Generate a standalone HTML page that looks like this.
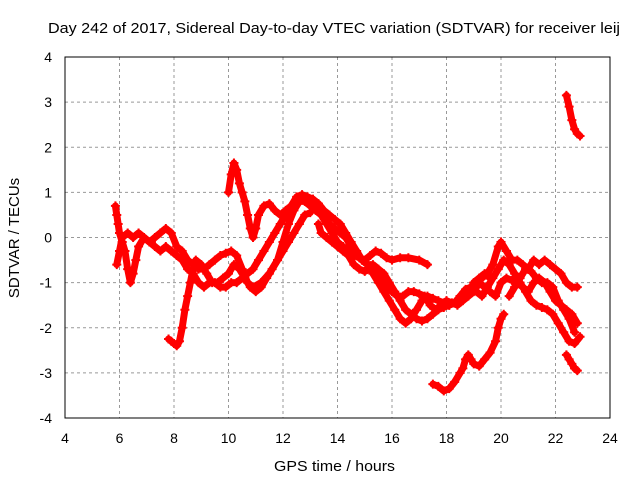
<!DOCTYPE html>
<html><head><meta charset="utf-8"><style>
body{margin:0;background:#fff;}
svg{display:block;font-family:"Liberation Sans",sans-serif;}
</style></head><body>
<svg id="chart" width="640" height="480" viewBox="0 0 640 480">
<rect width="640" height="480" fill="#fff"/>
<text x="48" y="33" font-size="15" textLength="572" lengthAdjust="spacingAndGlyphs" fill="#000">Day 242 of 2017, Sidereal Day-to-day VTEC variation (SDTVAR) for receiver leij</text>
<text x="274" y="471" font-size="15" textLength="121" lengthAdjust="spacingAndGlyphs">GPS time / hours</text>
<text x="0" y="0" font-size="15" text-anchor="middle" transform="translate(19,238) rotate(-90)">SDTVAR / TECUs</text>
<g id="grid"></g><g id="ticks"></g><g id="marks"></g>
<rect x="65" y="57" width="545" height="361" fill="none" stroke="#000" stroke-width="1"/>
</svg>
<script>
const xTicks=[4,6,8,10,12,14,16,18,20,22,24];
const yTicks=[-4,-3,-2,-1,0,1,2,3,4];
const track1=[[5.85,0.7],[5.9,0.5],[5.95,0.3],[6.0,0.1],[6.1,-0.1],[6.2,-0.3],[6.3,-0.7],[6.4,-1.0],[6.5,-0.8],[6.6,-0.5],[6.7,-0.2],[6.9,0.0],[7.1,-0.1],[7.3,0.0],[7.5,0.1],[7.7,0.2],[7.9,0.1],[8.1,-0.2],[8.3,-0.3],[8.5,-0.5],[8.7,-0.6],[8.9,-0.7],[9.1,-0.7],[9.3,-0.6],[9.5,-0.5],[9.7,-0.4],[9.9,-0.35],[10.1,-0.3],[10.3,-0.4],[10.5,-0.7],[10.7,-1.0],[10.9,-1.1],[11.2,-1.0],[11.5,-0.8],[11.8,-0.5],[12.0,-0.1],[12.2,0.3],[12.4,0.6],[12.6,0.8],[12.8,0.8],[13.0,0.7],[13.2,0.6],[13.4,0.5],[13.6,0.3],[13.8,0.1],[14.0,-0.1],[14.2,-0.2],[14.4,-0.3],[14.6,-0.4],[14.8,-0.45],[15.0,-0.5],[15.2,-0.4],[15.4,-0.3],[15.6,-0.35],[15.8,-0.45],[16.0,-0.5],[16.3,-0.45],[16.6,-0.45],[17.0,-0.5],[17.3,-0.6]];
const track2=[[5.9,-0.6],[6.0,-0.3],[6.1,0.0],[6.3,0.1],[6.5,0.0],[6.7,0.1],[6.9,0.0],[7.1,-0.1],[7.3,-0.2],[7.5,-0.3],[7.7,-0.2],[7.9,-0.3],[8.1,-0.4],[8.3,-0.5],[8.5,-0.7],[8.7,-0.8],[8.9,-1.0],[9.1,-1.1],[9.3,-1.0],[9.5,-1.0],[9.7,-1.1],[9.9,-1.1],[10.1,-1.0],[10.3,-1.0],[10.5,-0.9],[10.7,-0.8],[10.9,-0.7],[11.1,-0.5],[11.3,-0.3],[11.5,-0.1],[11.7,0.1],[11.9,0.3],[12.1,0.5],[12.3,0.7],[12.5,0.85],[12.7,0.9],[12.9,0.85],[13.1,0.8],[13.3,0.7],[13.5,0.5],[13.7,0.3],[13.9,0.2],[14.1,0.1],[14.3,0.0],[14.5,-0.2],[14.7,-0.3],[14.9,-0.5],[15.1,-0.6],[15.3,-0.6],[15.5,-0.7],[15.7,-0.8],[15.9,-1.0],[16.1,-1.2],[16.3,-1.4],[16.5,-1.6],[16.7,-1.7],[16.9,-1.8],[17.1,-1.85],[17.3,-1.8],[17.5,-1.7],[17.7,-1.6],[17.9,-1.55],[18.1,-1.5],[18.3,-1.45],[18.5,-1.3],[18.7,-1.15],[18.9,-1.1],[19.1,-1.2],[19.3,-1.3],[19.5,-1.1],[19.7,-0.9],[19.9,-0.7],[20.1,-0.5],[20.3,-0.6],[20.5,-0.8],[20.7,-1.0],[20.9,-1.2],[21.1,-1.4],[21.3,-1.5],[21.5,-1.55],[21.7,-1.6],[21.9,-1.7],[22.1,-1.9],[22.3,-2.1],[22.5,-2.3],[22.7,-2.35],[22.9,-2.2]];
const track3=[[7.8,-2.25],[7.9,-2.3],[8.0,-2.35],[8.1,-2.4],[8.2,-2.3],[8.3,-2.0],[8.4,-1.6],[8.5,-1.3],[8.6,-1.0],[8.7,-0.7],[8.8,-0.5],[9.0,-0.6],[9.2,-0.8],[9.4,-1.0],[9.6,-1.0],[9.8,-0.9],[10.0,-0.8],[10.2,-0.6],[10.4,-0.7],[10.6,-0.9],[10.8,-1.1],[11.0,-1.2],[11.2,-1.1],[11.4,-0.9],[11.6,-0.7],[11.8,-0.5],[12.0,-0.3],[12.2,-0.1],[12.4,0.1],[12.6,0.3],[12.8,0.5],[13.0,0.55]];
const track4=[[10.0,1.0],[10.1,1.4],[10.2,1.65],[10.3,1.5],[10.4,1.2],[10.5,1.0],[10.6,0.8],[10.7,0.5],[10.8,0.2],[10.9,0.0],[11.0,0.2],[11.1,0.5],[11.3,0.7],[11.5,0.75],[11.7,0.6],[11.9,0.5],[12.1,0.6],[12.3,0.7],[12.5,0.9],[12.7,0.95],[12.9,0.9],[13.1,0.85],[13.3,0.75],[13.5,0.6],[13.7,0.5],[13.9,0.4],[14.1,0.3],[14.3,0.1],[14.5,-0.1],[14.7,-0.3],[14.9,-0.5],[15.1,-0.6],[15.3,-0.8],[15.5,-1.0],[15.7,-1.2],[15.9,-1.4],[16.1,-1.6],[16.3,-1.8],[16.5,-1.9],[16.7,-1.8],[16.9,-1.6],[17.1,-1.4],[17.3,-1.3],[17.5,-1.35],[17.7,-1.4],[17.9,-1.45],[18.1,-1.5],[18.3,-1.45],[18.5,-1.3],[18.7,-1.2],[18.9,-1.1],[19.1,-1.0],[19.3,-0.9],[19.5,-0.8],[19.7,-0.6],[19.9,-0.2],[20.0,-0.1],[20.2,-0.3],[20.4,-0.5],[20.6,-0.5],[20.8,-0.6],[21.0,-0.7],[21.2,-0.5],[21.4,-0.6],[21.6,-0.5],[21.8,-0.6],[22.0,-0.7],[22.2,-0.8],[22.4,-1.0],[22.6,-1.1],[22.8,-1.1]];
const track5=[[13.3,0.3],[13.4,0.1],[13.6,0.0],[13.8,-0.1],[14.0,-0.2],[14.2,-0.3],[14.4,-0.4],[14.6,-0.6],[14.8,-0.7],[15.0,-0.75],[15.2,-0.7],[15.4,-0.75],[15.6,-0.9],[15.8,-1.1],[16.0,-1.2],[16.2,-1.3],[16.4,-1.3],[16.6,-1.2],[16.8,-1.2],[17.0,-1.25],[17.2,-1.3],[17.4,-1.5],[17.6,-1.6],[17.8,-1.5],[18.0,-1.4],[18.2,-1.45],[18.4,-1.5],[18.6,-1.4],[18.8,-1.3],[19.0,-1.2],[19.2,-1.0],[19.4,-1.1],[19.6,-1.2],[19.8,-1.3],[20.0,-1.0],[20.2,-0.9],[20.4,-0.95],[20.6,-1.0],[20.8,-1.1],[21.0,-1.2],[21.2,-1.0],[21.4,-0.9],[21.6,-1.0],[21.8,-1.2],[22.0,-1.4],[22.2,-1.5],[22.4,-1.6],[22.6,-1.7],[22.8,-1.9]];
const track6=[[17.5,-3.25],[17.7,-3.3],[17.9,-3.4],[18.1,-3.35],[18.3,-3.2],[18.5,-3.0],[18.6,-2.9],[18.7,-2.7],[18.8,-2.6],[18.9,-2.7],[19.0,-2.8],[19.2,-2.85],[19.4,-2.7],[19.6,-2.55],[19.8,-2.3],[19.9,-2.0],[20.0,-1.8],[20.1,-1.7]];
const track7=[[22.4,-2.6],[22.5,-2.7],[22.6,-2.8],[22.7,-2.9],[22.8,-2.95]];
const track8=[[22.4,3.15],[22.5,2.9],[22.6,2.6],[22.7,2.4],[22.8,2.3],[22.9,2.25]];
const track9=[[20.3,-1.3],[20.5,-1.1],[20.7,-0.9],[20.9,-0.7],[21.1,-0.75],[21.3,-0.9],[21.5,-1.0],[21.7,-1.0],[21.9,-1.1],[22.1,-1.4],[22.3,-1.6],[22.5,-1.8],[22.7,-2.1]];
const track10=[[18.8,-1.25],[19.0,-1.0],[19.2,-0.9],[19.4,-0.8],[19.6,-0.9]];
const tracks=[track1,track2,track3,track4,track5,track6,track7,track8,track9,track10];

const X0=65,X1=610,Y0=418,Y1=57;
const sx=v=>X0+(v-4)/20*(X1-X0);
const sy=v=>Y0-(v+4)/8*(Y0-Y1);
const NS="http://www.w3.org/2000/svg";
const grid=document.getElementById('grid'),ticks=document.getElementById('ticks'),marks=document.getElementById('marks');
function mk(tag,attrs,parent){const e=document.createElementNS(NS,tag);for(const k in attrs)e.setAttribute(k,attrs[k]);parent.appendChild(e);return e;}
xTicks.forEach(t=>{
  const x=sx(t);
  if(t>4&&t<24){const g=mk('line',{x1:x,x2:x,y1:Y1,y2:Y0,stroke:'#999','stroke-dasharray':'3,3','stroke-width':1},grid);
  
  }
  const l=mk('text',{x:x,y:443,'font-size':14,'text-anchor':'middle'},ticks);l.textContent=t;
  
  
});
yTicks.forEach(t=>{
  const y=sy(t);
  if(t>-4&&t<4){const g=mk('line',{x1:X0,x2:X1,y1:y,y2:y,stroke:'#999','stroke-dasharray':'3,3','stroke-width':1},grid);
  
  }
  const l=mk('text',{x:52,y:y+5,'font-size':14,'text-anchor':'end'},ticks);l.textContent=t;
  
  
});
tracks.forEach((tr,i)=>{
  const pl=mk('polyline',{points:tr.map(p=>sx(p[0])+','+sy(p[1])).join(' '),fill:'none',stroke:'#f00','stroke-width':7,'stroke-linejoin':'round','stroke-linecap':'round'},marks);
  
  
  tr.forEach(p=>{
    const x=sx(p[0]),y=sy(p[1]);
    const m=mk('path',{d:`M${x-4.5},${y}H${x+4.5}M${x},${y-4.5}V${y+4.5}`,stroke:'#f00','stroke-width':2},marks);
    
    
  });
});
</script>
</body></html>
